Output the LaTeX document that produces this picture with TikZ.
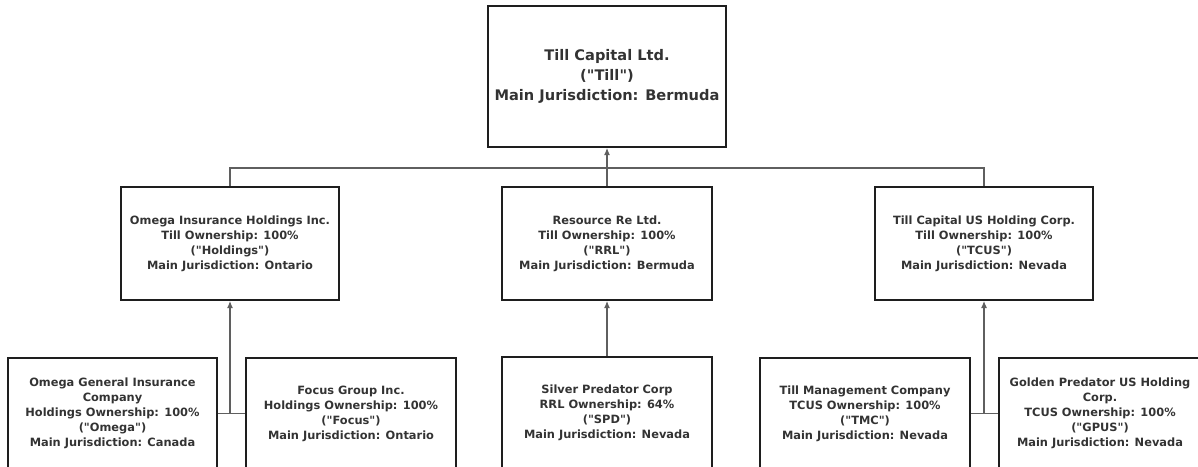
\documentclass[tikz,border=0pt]{standalone}
\usepackage{fontspec}
\setmainfont{DejaVu Sans}
\usepackage{tikz}
\usetikzlibrary{arrows.meta, positioning, calc}

\definecolor{boxline}{HTML}{1E1E1E}
\definecolor{linkgray}{HTML}{5F5F5F}
\definecolor{txtgray}{HTML}{333333}
\newcommand{\shortname}[1]{(\textquotedbl#1\textquotedbl)}

\begin{document}
\begin{tikzpicture}[
	every node/.style={text=txtgray, font=\bfseries},
	entity/.style={draw=boxline, line width=2pt, rectangle, align=center, inner sep=0pt},
	parent/.style={entity, minimum width=238pt, minimum height=141pt, font=\fontsize{14.6}{20}\selectfont\bfseries},
	subsid/.style={entity, minimum width=218pt, minimum height=113pt, font=\fontsize{11.4}{15}\selectfont\bfseries},
	leaf/.style={entity, minimum width=210pt, minimum height=111pt, font=\fontsize{11.4}{15}\selectfont\bfseries},
	link/.style={draw=linkgray, line width=1.1pt},
	arrow/.style={link, -{Latex[length=7pt,width=6pt]}}
	]
	\useasboundingbox (0,0) rectangle (1198pt,-466pt);
	
	% Parent company
	\node[parent] (till) at (607pt,-76.5pt) {Till Capital Ltd.\\\shortname{Till}\\Main Jurisdiction: Bermuda};
	
	% First level subsidiaries
	\node[subsid, minimum width=210pt, below=38pt of till] (rrl) {Resource Re Ltd.\\Till Ownership: 100\%\\\shortname{RRL}\\Main Jurisdiction: Bermuda};
	\node[subsid, left=161pt of rrl] (holdings) {Omega Insurance Holdings Inc.\\Till Ownership: 100\%\\\shortname{Holdings}\\Main Jurisdiction: Ontario};
	\node[subsid, right=161pt of rrl] (tcus) {Till Capital US Holding Corp.\\Till Ownership: 100\%\\\shortname{TCUS}\\Main Jurisdiction: Nevada};
	
	% Second level subsidiaries
	\node[leaf, minimum width=209pt, below=56pt of holdings, xshift=-117.5pt] (omega) {Omega General Insurance\\Company\\Holdings Ownership: 100\%\\\shortname{Omega}\\Main Jurisdiction: Canada};
	\node[leaf, right=27pt of omega] (focus) {Focus Group Inc.\\Holdings Ownership: 100\%\\\shortname{Focus}\\Main Jurisdiction: Ontario};
	\node[leaf, below=55pt of rrl] (spd) {Silver Predator Corp\\RRL Ownership: 64\%\\\shortname{SPD}\\Main Jurisdiction: Nevada};
	\node[leaf, below=56pt of tcus, xshift=-119pt] (tmc) {Till Management Company\\TCUS Ownership: 100\%\\\shortname{TMC}\\Main Jurisdiction: Nevada};
	\node[leaf, minimum width=202pt, right=27pt of tmc] (gpus) {Golden Predator US Holding\\Corp.\\TCUS Ownership: 100\%\\\shortname{GPUS}\\Main Jurisdiction: Nevada};
	
	% Connections
	\coordinate (bus) at ($(till.south)+(0,-20pt)$);
	\draw[link] (holdings.north) -- (holdings.north |- bus) -- (tcus.north |- bus) -- (tcus.north);
	\draw[arrow] (rrl.north) -- (till.south);
	
	\coordinate (jleft) at (holdings.south |- omega.east);
	\coordinate (jright) at (tcus.south |- tmc.east);
	\draw[link] (omega.east) -- (focus.west);
	\draw[link] (tmc.east) -- (gpus.west);
	\draw[arrow] (jleft) -- (holdings.south);
	\draw[arrow] (spd.north) -- (rrl.south);
	\draw[arrow] (jright) -- (tcus.south);
	
\end{tikzpicture}
\end{document}
